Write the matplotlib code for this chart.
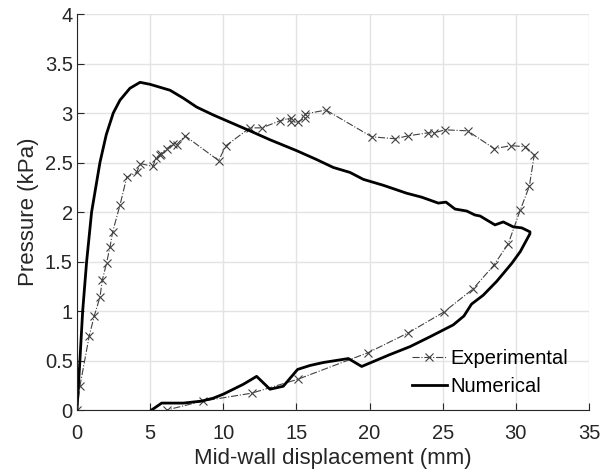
import numpy as np
import matplotlib
matplotlib.use("Agg")
import matplotlib.pyplot as plt

plt.rcParams['font.family'] = ['Liberation Sans', 'DejaVu Sans']

# Experimental loading/unloading loop (mm, kPa)
exp_x = [0, 0.2, 0.84, 1.18, 1.57, 1.73, 2.03, 2.26, 2.44, 2.94, 3.40, 4.08, 4.33,
         5.19, 5.40, 5.70, 5.72, 6.13, 6.58, 6.81, 7.38, 9.68, 10.18, 11.82, 12.64,
         13.85, 14.60, 14.63, 15.08, 15.58, 15.58, 17.02, 20.14, 21.74, 22.65, 24.01,
         24.42, 25.15, 26.70, 28.52, 29.66, 30.64, 31.26, 30.92, 30.30, 29.48, 28.48,
         27.05, 25.08, 22.65, 19.91, 15.08, 11.94, 8.59, 6.13]
exp_y = [0, 0.24, 0.75, 0.95, 1.14, 1.31, 1.49, 1.65, 1.80, 2.07, 2.35, 2.40, 2.49,
         2.46, 2.55, 2.58, 2.59, 2.64, 2.69, 2.68, 2.77, 2.52, 2.67, 2.85, 2.85,
         2.92, 2.95, 2.91, 2.91, 2.95, 2.99, 3.03, 2.76, 2.74, 2.77, 2.80,
         2.80, 2.83, 2.82, 2.64, 2.67, 2.66, 2.58, 2.26, 2.02, 1.68, 1.46,
         1.22, 0.99, 0.78, 0.58, 0.31, 0.17, 0.09, 0.0]

# Numerical loop
num_x = [0, 0.2, 0.39, 0.66, 1.0, 1.57, 2.0, 2.48, 2.94, 3.62, 4.31, 4.99, 5.45, 6.36,
         7.27, 8.18, 9.32, 11.82, 13.19, 15.01, 16.38, 17.52, 18.66, 19.57, 20.94,
         22.53, 23.56, 24.70, 25.22, 25.84, 26.64, 27.20, 27.55, 28.57, 29.14, 29.82,
         30.40, 30.96, 30.96, 30.74, 30.30, 29.71, 28.69, 27.77, 26.97, 26.45, 25.72,
         24.13, 22.76, 21.39, 19.46, 18.55, 16.84, 15.93, 15.08, 14.10, 13.19, 12.28,
         11.37, 10.00, 9.32, 8.52, 7.27, 5.79, 5.10]
num_y = [0, 0.5, 1.0, 1.5, 2.0, 2.5, 2.78, 3.0, 3.13, 3.25, 3.31, 3.29, 3.27, 3.23,
         3.15, 3.06, 2.98, 2.82, 2.73, 2.62, 2.53, 2.45, 2.40, 2.33, 2.27,
         2.19, 2.15, 2.09, 2.10, 2.03, 2.01, 1.97, 1.96, 1.87, 1.90, 1.85,
         1.84, 1.80, 1.78, 1.72, 1.60, 1.48, 1.30, 1.16, 1.07, 0.95, 0.86,
         0.74, 0.64, 0.56, 0.44, 0.52, 0.48, 0.45, 0.41, 0.24, 0.21, 0.34,
         0.26, 0.16, 0.12, 0.09, 0.07, 0.07, 0.0]

fig = plt.figure(figsize=(6.08, 4.75), dpi=100)
ax = fig.add_axes([0.1266, 0.1368, 0.8422, 0.8337])

ax.plot(exp_x, exp_y, color='#404040', linestyle='-.', linewidth=0.8,
        marker='x', markersize=6, markeredgewidth=0.8, label='Experimental')
ax.plot(num_x, num_y, color='black', linewidth=2, label='Numerical')

ax.set_xlim(0, 35)
ax.set_ylim(0, 4)
ax.set_xticks(np.arange(0, 36, 5))
ax.set_yticks([0, 0.5, 1, 1.5, 2, 2.5, 3, 3.5, 4])
ax.set_yticklabels(['0', '0.5', '1', '1.5', '2', '2.5', '3', '3.5', '4'])
ax.grid(True, color='#e3e3e3', linewidth=1)
ax.set_axisbelow(True)

for s in ['top', 'right']:
    ax.spines[s].set_visible(False)
for s in ['left', 'bottom']:
    ax.spines[s].set_color('#262626')
    ax.spines[s].set_linewidth(0.8)
ax.tick_params(direction='in', length=5, width=0.8, colors='#262626',
               labelsize=14.5, labelcolor='#262626')
ax.tick_params(axis='y', pad=3)
ax.tick_params(axis='x', pad=10)

ax.set_xlabel('Mid-wall displacement (mm)', fontsize=16, color='#262626', labelpad=4)
ax.set_ylabel('Pressure (kPa)', fontsize=16, color='#262626', labelpad=4)

ax.legend(loc='lower left', bbox_to_anchor=(0.655, 0.035), frameon=False,
          fontsize=14.5, handlelength=1.7, handletextpad=0.2, labelspacing=0.45,
          borderpad=0, borderaxespad=0)

fig.savefig('out.png', dpi=100)
